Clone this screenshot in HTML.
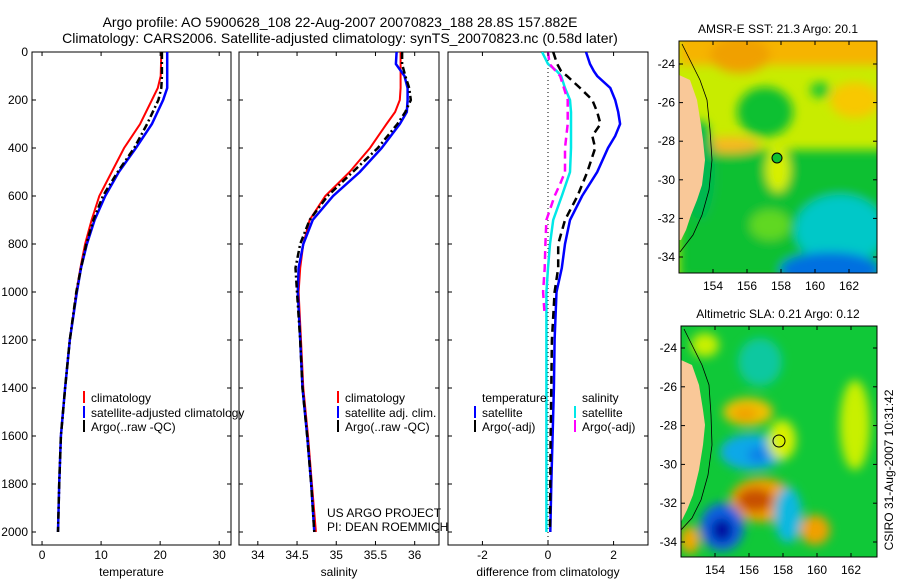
<!DOCTYPE html>
<html><head><meta charset="utf-8">
<style>
body{margin:0;background:#fff;}
svg{display:block;font-family:"Liberation Sans",sans-serif;}
</style></head>
<body>
<svg id="fig" width="900" height="580" viewBox="0 0 900 580">
<defs>
<clipPath id="c1"><rect x="32" y="52" width="199" height="493"/></clipPath>
<clipPath id="c2"><rect x="239" y="52" width="200" height="493"/></clipPath>
<clipPath id="c3"><rect x="448" y="52" width="200" height="493"/></clipPath>
<clipPath id="cm1"><rect x="679" y="41" width="198" height="232"/></clipPath>
<clipPath id="cm2"><rect x="681" y="326" width="196" height="231"/></clipPath>
<filter id="bl" x="-30%" y="-30%" width="160%" height="160%"><feGaussianBlur stdDeviation="5"/></filter>
</defs>
<text x="340" y="27" font-size="14" text-anchor="middle">Argo profile: AO 5900628_108 22-Aug-2007 20070823_188 28.8S 157.882E</text>
<text x="340" y="43" font-size="14" text-anchor="middle">Climatology: CARS2006. Satellite-adjusted climatology: synTS_20070823.nc (0.58d later)</text>

<!-- SST map -->
<g>
<rect x="679" y="41" width="198" height="232" fill="#c8ec00"/>
<g clip-path="url(#cm1)" filter="url(#bl)">
<rect x="679" y="30" width="210" height="35" fill="#f6b400"/>
<ellipse cx="740" cy="55" rx="30" ry="18" fill="#f0a000"/>
<ellipse cx="855" cy="100" rx="25" ry="18" fill="#f8c800"/>
<rect x="679" y="150" width="210" height="130" fill="#10c030"/>
<ellipse cx="765" cy="112" rx="28" ry="25" fill="#10c030"/>
<ellipse cx="820" cy="90" rx="10" ry="8" fill="#20c830"/>
<ellipse cx="730" cy="145" rx="30" ry="8" fill="#f8b820"/>
<ellipse cx="778" cy="170" rx="12" ry="22" fill="#d8f000"/>
<ellipse cx="770" cy="225" rx="20" ry="15" fill="#60d820"/>
<ellipse cx="840" cy="230" rx="45" ry="35" fill="#00c8c8"/>
<ellipse cx="830" cy="270" rx="50" ry="18" fill="#0070e0"/>
<ellipse cx="700" cy="170" rx="15" ry="50" fill="#00b850"/>
</g>
<g clip-path="url(#cm1)">
<polygon points="679,75 690,80 697,100 701,125 703,140 705,160 702,185 697,200 691,215 686,230 681,240 679,240" fill="#f9c898"/>
<polyline points="682,44 690,60 700,80 707,100 710,130 712,160 709,190 702,215 693,235 680,252" fill="none" stroke="#000" stroke-width="0.8"/>
<circle cx="777" cy="158" r="5" fill="#10c030" stroke="#000" stroke-width="1"/>
</g>
<rect x="679" y="41" width="198" height="232" fill="none" stroke="#000"/>
<text x="778" y="33" font-size="12" text-anchor="middle">AMSR-E SST: 21.3 Argo: 20.1</text>
<g id="m1ax" font-size="12"></g>
</g>

<!-- SLA map -->
<g>
<rect x="681" y="326" width="196" height="231" fill="#10c838"/>
<g clip-path="url(#cm2)" filter="url(#bl)">
<ellipse cx="760" cy="362" rx="22" ry="24" fill="#10c8a0"/>
<ellipse cx="748" cy="412" rx="25" ry="14" fill="#f0c000"/>
<ellipse cx="745" cy="414" rx="12" ry="7" fill="#f0a000"/>
<ellipse cx="752" cy="452" rx="32" ry="18" fill="#10a8e8"/>
<ellipse cx="758" cy="455" rx="10" ry="8" fill="#1080e8"/>
<ellipse cx="782" cy="440" rx="14" ry="20" fill="#d8f000"/>
<ellipse cx="762" cy="500" rx="32" ry="22" fill="#f0a000"/>
<ellipse cx="755" cy="500" rx="18" ry="12" fill="#c85000"/>
<ellipse cx="722" cy="527" rx="22" ry="24" fill="#1060e0"/>
<ellipse cx="722" cy="530" rx="11" ry="12" fill="#0010a0"/>
<ellipse cx="788" cy="515" rx="14" ry="28" fill="#10b8e0"/>
<ellipse cx="815" cy="530" rx="15" ry="15" fill="#f0a000"/>
<ellipse cx="855" cy="425" rx="15" ry="45" fill="#c8f000"/>
<ellipse cx="690" cy="540" rx="10" ry="14" fill="#f0a800"/>
<ellipse cx="705" cy="345" rx="14" ry="12" fill="#c8f000"/>
</g>
<g clip-path="url(#cm2)">
<polygon points="681,360 692,365 699,385 703,410 705,425 703,445 699,470 693,495 687,510 681,522" fill="#f9c898"/>
<polyline points="684,329 692,345 702,365 709,385 711,415 712,445 708,475 701,500 692,518 681,530" fill="none" stroke="#000" stroke-width="0.8"/>
<circle cx="779" cy="441" r="6" fill="none" stroke="#000" stroke-width="1"/>
</g>
<rect x="681" y="326" width="196" height="231" fill="none" stroke="#000"/>
<text x="778" y="318" font-size="12" text-anchor="middle">Altimetric SLA: 0.21 Argo: 0.12</text>
<g id="m2ax" font-size="12"></g>
<text transform="translate(893,470) rotate(-90)" font-size="12" text-anchor="middle">CSIRO 31-Aug-2007 10:31:42</text>
</g>

<g id="panels" font-size="12"></g>
</svg>
<script>
// ---- data ----
const depthT = [0,100,150,200,300,400,500,600,700,800,900,1000,1200,1400,1600,1800,2000];
const tempClim = [20.2,20.1,19.6,18.6,16.6,13.9,11.8,9.7,8.4,7.3,6.5,5.8,4.7,3.9,3.2,2.9,2.7];
const tempSat = [21.2,21.2,21.2,20.5,18.6,15.9,13.0,10.7,8.9,7.6,6.6,5.9,4.7,3.9,3.2,2.9,2.7];
const tempArgo = [20.3,20.3,20.2,19.7,17.8,15.6,12.8,10.3,8.7,7.5,6.6,5.8,4.7,3.9,3.2,2.9,2.7];
const depthS = [0,50,100,150,200,250,300,400,500,600,700,800,900,1000,1200,1400,1600,1800,2000];
const salClim = [35.82,35.82,35.82,35.82,35.81,35.75,35.64,35.43,35.17,34.86,34.66,34.58,34.54,34.52,34.55,34.58,34.64,34.69,34.74];
const salSat = [35.77,35.76,35.87,35.91,35.91,35.90,35.81,35.58,35.30,34.96,34.70,34.58,34.52,34.51,34.54,34.57,34.63,34.68,34.72];
const salArgo = [35.84,35.84,35.88,35.93,35.95,35.88,35.78,35.53,35.21,34.89,34.66,34.54,34.48,34.50,34.54,34.57,34.63,34.68,34.72];
const depthD = [0,50,80,100,150,200,250,300,350,400,500,600,700,800,900,1000,1200,1400,1600,1800,2000];
const dTempSat = [1.16,1.28,1.4,1.5,1.9,2.05,2.14,2.2,2.05,1.83,1.5,1.04,0.67,0.52,0.42,0.26,0.2,0.18,0.14,0.1,0.07];
const dTempArgo = [0.16,0.28,0.4,0.58,0.98,1.35,1.5,1.6,1.35,1.44,1.2,0.9,0.52,0.31,0.31,0.2,0.12,0.1,0.08,0.07,0.06];
const dSalSat = [-0.18,0,0.27,0.4,0.52,0.67,0.7,0.7,0.7,0.7,0.67,0.42,0.16,0.06,0,-0.05,-0.05,-0.05,-0.05,-0.05,-0.05];
const depthDM = [0,50,100,200,300,400,500,550,600,700,800,900,1000,1100];
const dSalArgo = [0,0.05,0.37,0.6,0.6,0.52,0.52,0.37,0.2,-0.05,-0.08,-0.1,-0.15,-0.1];
const depthTicks = [0,200,400,600,800,1000,1200,1400,1600,1800,2000];
const tempTicks = [0,10,20,30];
const salTicks = [34,34.5,35,35.5,36];
const diffTicks = [-2,0,2];
const lonTicks = [154,156,158,160,162];
const latTicks = [-24,-26,-28,-30,-32,-34];

const NS='http://www.w3.org/2000/svg';
const P=document.getElementById('panels');
function mk(tag,attrs,parent){const e=document.createElementNS(NS,tag);for(const k in attrs)e.setAttribute(k,attrs[k]);(parent||P).appendChild(e);return e;}
const yD = d => 52 + d*0.24;
const TOP=52, BOT=545;
const panels=[
 {x0:32,x1:231,min:-1.7,max:32,ticks:tempTicks,title:'temperature',name:'temperature-panel',ylab:true,clip:'c1'},
 {x0:239,x1:439,min:33.76,max:36.31,ticks:salTicks,title:'salinity',name:'salinity-panel',ylab:false,clip:'c2'},
 {x0:448,x1:648,min:-3.05,max:3.05,ticks:diffTicks,title:'difference from climatology',name:'difference-panel',ylab:false,clip:'c3'}
];
panels.forEach(p=>{p.sx=v=>p.x0+(v-p.min)/(p.max-p.min)*(p.x1-p.x0);});
function line(p,vals,depths,color,w,dash,name){
 const pts=vals.map((v,i)=>p.sx(v).toFixed(1)+','+yD(depths[i]).toFixed(1)).join(' ');
 const g=document.getElementById(p.clip+'g');
 const l=mk('polyline',{points:pts,fill:'none',stroke:color,'stroke-width':w},g);
 if(dash)l.setAttribute('stroke-dasharray',dash);
 
 
}
panels.forEach((p,pi)=>{
 const g=mk('g',{});
 
 
 mk('rect',{x:p.x0,y:TOP,width:p.x1-p.x0,height:BOT-TOP,fill:'#fff',stroke:'#000'},g);
 const cg=mk('g',{'clip-path':'url(#'+p.clip+')',id:p.clip+'g'},g);
 depthTicks.forEach(d=>{
  const y=yD(d);
  mk('line',{x1:p.x0,x2:p.x0+4,y1:y,y2:y,stroke:'#000'},g);
  mk('line',{x1:p.x1,x2:p.x1-4,y1:y,y2:y,stroke:'#000'},g);
  if(p.ylab){const t=mk('text',{x:p.x0-4,y:y+4,'text-anchor':'end'},g);t.textContent=d;
   
   }
 });
 p.ticks.forEach(v=>{
  const x=p.sx(v);
  mk('line',{x1:x,x2:x,y1:TOP,y2:TOP+4,stroke:'#000'},g);
  mk('line',{x1:x,x2:x,y1:BOT,y2:BOT-4,stroke:'#000'},g);
  const t=mk('text',{x:x,y:559,'text-anchor':'middle'},g);t.textContent=v;
  
  
 });
 const tt=mk('text',{x:(p.x0+p.x1)/2,y:576,'text-anchor':'middle'},g);tt.textContent=p.title;
 
 
});
const p3=panels[2];
mk('line',{x1:p3.sx(0),x2:p3.sx(0),y1:TOP,y2:BOT,stroke:'#000','stroke-dasharray':'1,3','stroke-width':1},document.getElementById('c3g'));
line(panels[0],tempClim,depthT,'#ff0000',2,null,'temp-climatology-line');
line(panels[0],tempSat,depthT,'#0000ff',2.5,null,'temp-satellite-line');
line(panels[0],tempArgo,depthT,'#000',2.5,'7,3,2,3','temp-argo-line');
line(panels[1],salClim,depthS,'#ff0000',2,null,'sal-climatology-line');
line(panels[1],salSat,depthS,'#0000ff',2.5,null,'sal-satellite-line');
line(panels[1],salArgo,depthS,'#000',2.5,'7,3,2,3','sal-argo-line');
line(p3,dTempSat,depthD,'#0000ff',2.5,null,'dtemp-satellite-line');
line(p3,dTempArgo,depthD,'#000',2.5,'8,5','dtemp-argo-line');
line(p3,dSalSat,depthD,'#00e8e8',2.5,null,'dsal-satellite-line');
line(p3,dSalArgo,depthDM,'#ff00ff',2.5,'8,5','dsal-argo-line');
function leg(x,y,color,label,name){
 if(color){const b=mk('line',{x1:x,x2:x,y1:y-11,y2:y+1,stroke:color,'stroke-width':2});
  
  }
 const t=mk('text',{x:x+7,y:y});t.textContent=label;
 
 
}
leg(84,402,'#ff0000','climatology','legend-climatology');
leg(84,417,'#0000ff','satellite-adjusted climatology','legend-satellite');
leg(84,431,'#000','Argo(..raw -QC)','legend-argo');
leg(338,402,'#ff0000','climatology','legend-sal-climatology');
leg(338,417,'#0000ff','satellite adj. clim.','legend-sal-satellite');
leg(338,431,'#000','Argo(..raw -QC)','legend-sal-argo');
leg(475,402,null,'temperature','legend-temp-header');
leg(475,417,'#0000ff','satellite','legend-dtemp-satellite');
leg(475,431,'#000','Argo(-adj)','legend-dtemp-argo');
leg(575,402,null,'salinity','legend-sal-header');
leg(575,417,'#00e8e8','satellite','legend-dsal-satellite');
leg(575,431,'#ff00ff','Argo(-adj)','legend-dsal-argo');
const n1=mk('text',{x:327,y:517});n1.textContent='US ARGO PROJECT';


const n2=mk('text',{x:327,y:531});n2.textContent='PI: DEAN ROEMMICH';


function mapAxes(id,x0,x1,y0,y1,lat24,lat34,labY){
 const g=document.getElementById(id);
 const sx=l=>x0+(l-152)*17;
 const sy=l=>lat24+(l+24)*(lat24-lat34)/10;
 lonTicks.forEach(l=>{const x=sx(l);
  mk('line',{x1:x,x2:x,y1:y0,y2:y0+4,stroke:'#000'},g);
  mk('line',{x1:x,x2:x,y1:y1,y2:y1-4,stroke:'#000'},g);
  const t=mk('text',{x:x,y:labY,'text-anchor':'middle'},g);t.textContent=l;
  
  });
 latTicks.forEach(l=>{const y=sy(l);
  mk('line',{x1:x0,x2:x0+4,y1:y,y2:y,stroke:'#000'},g);
  mk('line',{x1:x1,x2:x1-4,y1:y,y2:y,stroke:'#000'},g);
  const t=mk('text',{x:x0-4,y:y+4,'text-anchor':'end'},g);t.textContent=l;
  
  });
}
mapAxes('m1ax',679,877,41,273,64,257,290);
mapAxes('m2ax',681,877,326,557,348,542,574);
</script>
</body></html>
